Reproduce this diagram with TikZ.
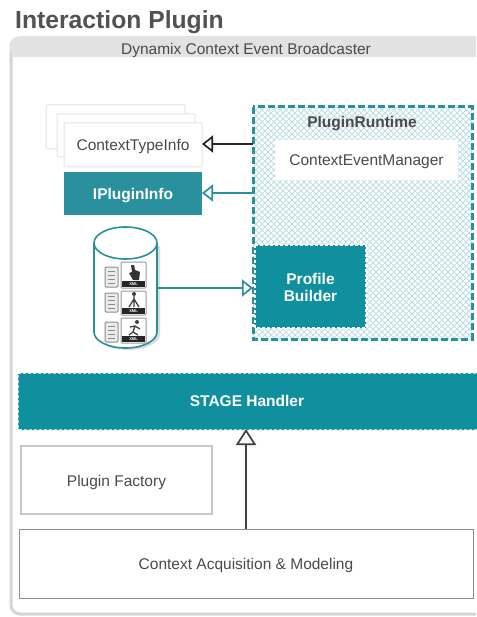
\documentclass[tikz,border=0pt]{standalone}
\usepackage{fontspec}
\setmainfont{Liberation Sans}
\usetikzlibrary{arrows.meta}
\definecolor{teala}{HTML}{2A909E}
\definecolor{tealb}{HTML}{108F9F}
\definecolor{hatch}{HTML}{BEDFE3}
\definecolor{txt}{HTML}{4A4A4A}
\definecolor{frameg}{HTML}{D4D4D4}
\definecolor{barg}{HTML}{E2E2E2}
\definecolor{boxg}{HTML}{E4E4E4}
\tikzset{
  lbl/.style={font=\fontsize{15.5}{17}\selectfont,text=txt,inner sep=0pt,yshift=-2pt},
  boldlbl/.style={font=\fontsize{15.5}{17}\selectfont\bfseries,text=white,inner sep=0pt,align=center,yshift=-2pt},
  px/.style={inner sep=0pt,outer sep=0pt,anchor=north west},
  card/.style={draw=boxg,line width=1pt,fill=white,rounded corners=1pt},
  openarrow/.style={line width=1.7pt,-{Triangle[open,length=11pt,width=17pt,line width=1.7pt,fill=white]}},
  bigarrow/.style={line width=1.7pt,-{Triangle[open,length=16pt,width=20pt,line width=1.7pt,fill=white]}},
  whitedash/.style={draw=white,line width=1.3pt,dash pattern=on 3pt off 2pt},
}
\begin{document}
\begin{tikzpicture}[x=1pt,y=-1pt]
\useasboundingbox (0,0) rectangle (476,617);
\fill[white] (0,0) rectangle (476,617);
\node[font=\fontsize{24.7}{26}\selectfont\bfseries,text=black!68,inner sep=0pt,anchor=base west] (title) at (15,29) {Interaction Plugin};
% outer frame
\begin{scope}
\clip (0,0) rectangle (476,617);
\draw[frameg,line width=3pt,fill=white,rounded corners=9pt] (11,38) rectangle (490,614);
\fill[barg,rounded corners=8pt] (10,37) -- (10,57) -- (490,57) -- (490,37) -- cycle;
\fill[barg] (12,48) rectangle (490,57);
\end{scope}
\node[lbl] (broker) at (246,48.5) {Dynamix Context Event Broadcaster};
% stacked cards
\node[card,px,minimum width=139pt,minimum height=44pt] (back1) at (46,105) {};
\node[card,px,minimum width=138pt,minimum height=43pt] (back2) at (57,114) {};
\node[card,px,minimum width=138pt,minimum height=44pt] (ctype) at (64,123) {};
\node[lbl] (ctypelabel) at (ctype.center) {ContextTypeInfo};
\node[px,fill=teala,minimum width=138pt,minimum height=43pt] (iplugin) at (64,172) {};
\node[boldlbl] (ipluginlabel) at (iplugin.center) {IPluginInfo};
% runtime
\node[px,minimum width=219pt,minimum height=232pt] (runtime) at (253,107) {};
\begin{scope}
\clip (253,107) rectangle (472,339);
\foreach \k in {-60,...,100} {
  \draw[hatch,line width=.8pt] (253+\k*6,107) -- ++(240,240);
  \draw[hatch,line width=.8pt] (253+\k*6,107) -- ++(-240,240);
}
\end{scope}
\draw[teala,line width=3pt,dash pattern=on 7pt off 3pt] (runtime.north west) rectangle (runtime.south east);
\node[font=\fontsize{15.5}{17}\selectfont\bfseries,text=txt,inner sep=0pt] (rtlabel) at (362,124) {PluginRuntime};
\node[px,fill=white,minimum width=183pt,minimum height=40pt] (cem) at (275,140) {};
\node[lbl] (cemlabel) at (cem.center) {ContextEventManager};
\node[px,fill=tealb,minimum width=111pt,minimum height=83pt] (profile) at (255,245) {};
\draw[whitedash] (profile.north west) rectangle (profile.south east);
\node[boldlbl,yshift=1pt] (profilelabel) at (profile.center) {Profile\\Builder};
% cylinder
\node[px,minimum width=63pt,minimum height=121pt] (db) at (94,227) {};
\fill[black!14] (97,246) -- (97,334) arc[start angle=180,end angle=360,x radius=31.5pt,y radius=16pt] -- (160,246) -- cycle;
\draw[teala,line width=1.6pt,fill=white] (94,243) -- (94,332) arc[start angle=180,end angle=360,x radius=31.5pt,y radius=16pt] -- (157,243);
\draw[teala,line width=1.6pt,fill=white] (125.5,243) ellipse (31.5pt and 16pt);
\foreach \t/\b/\dt/\db in {262/288/267/287, 291/315/293/312, 318/343/322/342}{
  \draw[black!45,fill=black!8,line width=1pt,rounded corners=1pt] (105,\dt) rectangle (118,\db);
  \foreach \f in {.2,.4,.6,.8}{ \draw[black!45,line width=1pt] (108,{\dt+\f*(\db-\dt)}) -- (115,{\dt+\f*(\db-\dt)}); }
  \draw[black!40,fill=white,line width=1pt,rounded corners=1pt] (121,\t) rectangle (146,\b);
  \fill[black!85] (122,\b-7) rectangle (145,\b-1);
  \node[font=\fontsize{4}{4}\selectfont\bfseries,text=white,inner sep=0pt] at (133.5,\b-4) {XML};
}
\fill[black!80] (131,265) -- (134,265) -- (135,270) -- (140,272) -- (139,280) -- (133,280) -- (129,273) -- (132,272) -- cycle;
\draw[black!75,line width=1.3pt] (134,296) -- (134,307) (134,299) -- (129,307) (134,299) -- (139,307);
\fill[black!75] (134,294) circle (2pt);
\draw[black!75,line width=1.3pt] (135,326) -- (133,332) -- (129,335) (133,332) -- (138,335) (130,327) -- (135,326) -- (140,329);
\fill[black!75] (137,322) circle (2pt);
% stage
\node[px,fill=tealb,minimum width=462pt,minimum height=57pt,rounded corners=2pt] (stage) at (18,373) {};
\draw[whitedash,rounded corners=2pt] (stage.north west) rectangle (stage.south east);
\node[boldlbl] (stagelabel) at (247,398.5) {STAGE Handler};
% factory
\node[px,draw=black!22,line width=2.6pt,fill=white,minimum width=191pt,minimum height=68pt] (factory) at (21,446) {};
\node[lbl] (factorylabel) at (factory.center) {Plugin Factory};
% context
\node[px,draw=black!45,line width=.8pt,fill=white,minimum width=454pt,minimum height=69pt] (acq) at (19,529) {};
\node[lbl] (acqlabel) at (acq.center) {Context Acquisition \& Modeling};
% connectors
\draw[openarrow,draw=black!85] ([yshift=1pt]runtime.west |- ctype.east) -- ([yshift=1pt]ctype.east);
\draw[openarrow,draw=teala] ([yshift=.5pt]runtime.west |- iplugin.east) -- ([yshift=.5pt]iplugin.east);
\coordinate (dbout) at (157,288);
\coordinate (pfin) at (253,288);
\draw[openarrow,draw=teala] (dbout) -- (pfin);
\coordinate (acqtop) at (246,529);
\coordinate (stagebot) at (246,429);
\draw[bigarrow,draw=black!75] (acqtop) -- (stagebot);
\end{tikzpicture}
\end{document}
